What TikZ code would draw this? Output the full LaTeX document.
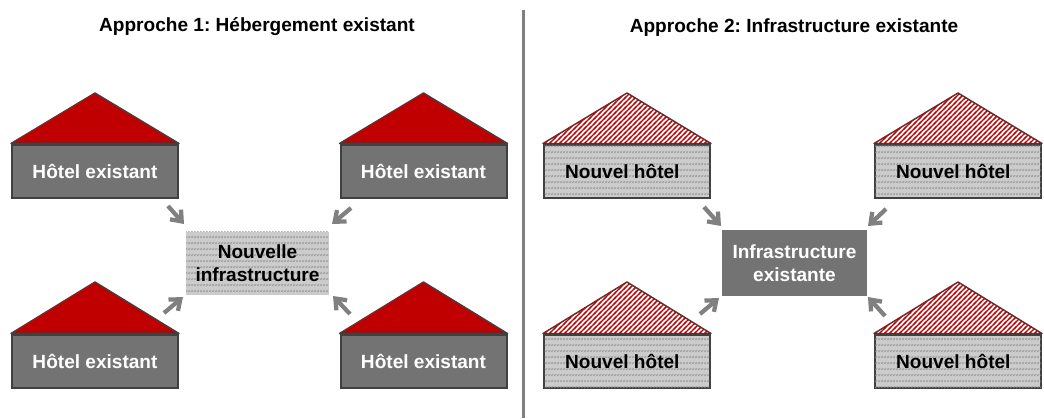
\documentclass[tikz,border=0pt]{standalone}
\usepackage{fontspec}
\setmainfont{Liberation Sans}
\usetikzlibrary{arrows.meta,patterns,patterns.meta}
\definecolor{darkfill}{HTML}{737373}
\definecolor{edgedark}{HTML}{404040}
\definecolor{hatchbg}{HTML}{CCCCCC}
\definecolor{hatchink}{HTML}{8C8C8C}
\definecolor{roofred}{HTML}{C00000}
\definecolor{arrowgrey}{HTML}{808080}
\pgfdeclarepatternformonly{bandticks}{\pgfpointorigin}{\pgfqpoint{2.25pt}{4.5pt}}{\pgfqpoint{2.25pt}{4.5pt}}{
  \pgfsetlinewidth{0.45pt}
  \pgfpathmoveto{\pgfqpoint{-0.3pt}{0.8pt}}
  \pgfpathlineto{\pgfqpoint{1.2pt}{2.6pt}}
  \pgfusepath{stroke}
  \pgfpathmoveto{\pgfqpoint{1.95pt}{0.8pt}}
  \pgfpathlineto{\pgfqpoint{3.45pt}{2.6pt}}
  \pgfusepath{stroke}
}
\pgfdeclarepatternformonly{roofstripes}{\pgfqpoint{-1pt}{-1pt}}{\pgfqpoint{4.75pt}{4.75pt}}{\pgfqpoint{3.75pt}{3.75pt}}{
  \pgfsetlinewidth{0.85pt}
  \pgfpathmoveto{\pgfqpoint{-1pt}{-1pt}}
  \pgfpathlineto{\pgfqpoint{4.75pt}{4.75pt}}
  \pgfusepath{stroke}
}
\tikzset{
  x=0.75pt,y=-0.75pt,
  label text/.style={font=\bfseries\fontsize{14.3pt}{17pt}\selectfont,align=center,inner sep=0pt},
  hotel/.style={rectangle,draw=edgedark,line width=1.5pt,minimum width=124.5pt,minimum height=39.75pt,label text},
  existing/.style={hotel,fill=darkfill,text=white},
  newhotel/.style={hotel,fill=hatchbg,postaction={pattern=bandticks,pattern color=hatchink},text=black},
  roofsolid/.style={draw=edgedark,line width=1.1pt,line join=round,fill=roofred},
  roofhatch/.style={draw=edgedark,line width=1.1pt,line join=round,fill=white,
    postaction={pattern=roofstripes,pattern color=roofred}},
  centerbox/.style={rectangle,minimum width=107pt,minimum height=47.5pt,label text},
  flow/.style={draw=arrowgrey,line width=3.2pt,-{Straight Barb[length=7pt,width=11pt,line width=3.2pt]}},
  title text/.style={font=\bfseries\fontsize{14.3pt}{16pt}\selectfont,inner sep=0pt},
  divider/.style={draw=arrowgrey,line width=2.4pt}
}
\newcommand{\lefttext}[1]{#1\hspace*{7pt}}
\begin{document}
\frenchspacing
\begin{tikzpicture}
\useasboundingbox (0,0) rectangle (1044,418);
% titles
\node[title text] (t1) at (257,27) {Approche 1: Hébergement existant};
\node[title text] (t2) at (794,28) {Approche 2: Infrastructure existante};
% divider
\coordinate (d1) at (523.5,10);
\coordinate (d2) at (523.5,418);
\draw[divider] (d1) -- (d2);
% left houses
\node[existing] (a1) at (95,171) {Hôtel existant};
\node[existing] (a2) at (423.5,171) {Hôtel existant};
\node[existing] (a3) at (95,361) {Hôtel existant};
\node[existing] (a4) at (423.5,361) {Hôtel existant};
\coordinate (ar1) at (95,93);
\coordinate (ar2) at (423.5,93);
\coordinate (ar3) at (95,282);
\coordinate (ar4) at (423.5,282);
\foreach \h/\r in {a1/ar1,a2/ar2,a3/ar3,a4/ar4}{
  \draw[roofsolid] (\h.north west) -- (\r) -- (\h.north east) -- cycle;
}
% right houses
\coordinate (br1) at (627,93);
\coordinate (br2) at (958,93);
\coordinate (br3) at (627,282);
\coordinate (br4) at (958,282);
\node[newhotel] (b1) at (627,171) {\lefttext{Nouvel hôtel}};
\node[newhotel] (b2) at (958,171) {\lefttext{Nouvel hôtel}};
\node[newhotel] (b3) at (627,361) {\lefttext{Nouvel hôtel}};
\node[newhotel] (b4) at (958,361) {\lefttext{Nouvel hôtel}};
\foreach \h/\r in {b1/br1,b2/br2,b3/br3,b4/br4}{
  \draw[roofhatch] (\h.north west) -- (\r) -- (\h.north east) -- cycle;
}
% centre boxes
\node[centerbox,fill=hatchbg,postaction={pattern=bandticks,pattern color=hatchink},text=black] (c1) at (257.5,263.5) {Nouvelle\\infrastructure};
\node[centerbox,fill=darkfill,text=white,minimum width=108.5pt,minimum height=49.5pt] (c2) at (794.5,263) {Infrastructure\\existante};
% left arrows
\coordinate (s1) at (168,206); \coordinate (e1) at (184,224);
\coordinate (s2) at (351,208); \coordinate (e2) at (332,224);
\coordinate (s3) at (164,313); \coordinate (e3) at (183,297);
\coordinate (s4) at (350,314); \coordinate (e4) at (333,296);
\draw[flow] (s1) -- (e1);
\draw[flow] (s2) -- (e2);
\draw[flow] (s3) -- (e3);
\draw[flow] (s4) -- (e4);
% right arrows
\coordinate (u1) at (704,207); \coordinate (v1) at (721,226);
\coordinate (u2) at (886,209); \coordinate (v2) at (868,226);
\coordinate (u3) at (700,314); \coordinate (v3) at (719,298);
\coordinate (u4) at (885,316); \coordinate (v4) at (868,297);
\draw[flow] (u1) -- (v1);
\draw[flow] (u2) -- (v2);
\draw[flow] (u3) -- (v3);
\draw[flow] (u4) -- (v4);
\end{tikzpicture}
\end{document}
